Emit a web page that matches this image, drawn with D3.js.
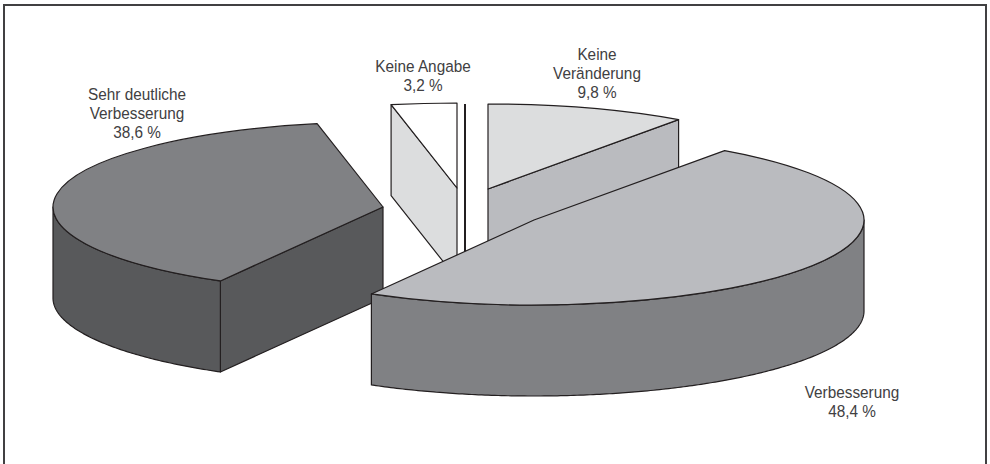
<!DOCTYPE html>
<html>
<head>
<meta charset="utf-8">
<script src="https://d3js.org/d3.v7.min.js"></script>
<style>
  html, body { margin: 0; background: #fff; }
  svg { display: block; }
  text { font-family: "Liberation Sans", sans-serif; font-size: 16.5px; fill: #414042; text-anchor: middle; }
  .slice path { stroke: #231f20; stroke-width: 1.2; stroke-linejoin: round; vector-effect: non-scaling-stroke; }
</style>
</head>
<body>
<div id="chart"></div>
<script>
// values in percent, clockwise from twelve o'clock
const categories = ['Keine Veränderung', 'Verbesserung', 'Sehr deutliche Verbesserung', 'Keine Angabe']
const shares = [9.8, 48.4, 38.6, 3.2]
const valueLabels = ['9,8 %', '48,4 %', '38,6 %', '3,2 %']

const width = 990, height = 464
const rx = 330, ry = 85, depth = 91

const svg = d3.select('#chart').append('svg')
    .attr('width', width)
    .attr('height', height)

// frame, open at the bottom
svg.append('path')
    .attr('fill', 'none')
    .attr('stroke', '#414042')
    .attr('stroke-width', 2)
    .attr('d', 'M4,464V5H986V464')

// where each exploded slice sits, how it is shaded, which flat side shows
const look = {
  'Keine Veränderung': {cx: 488, cy: 189, top: '#dcddde', wall: '#babbbf', order: 2, side: 'endAngle'},
  'Verbesserung': {cx: 534, cy: 220, top: '#babbbf', wall: '#808184', order: 4, side: null},
  'Sehr deutliche Verbesserung': {cx: 383, cy: 207, top: '#808184', wall: '#58595b', order: 3, side: 'startAngle'},
  'Keine Angabe': {cx: 457, cy: 188, top: '#ffffff', wall: '#dcddde', order: 0, side: 'startAngle'}
}

const pie = d3.pie().sort(null)
const slices = pie(shares).map((d, i) => ({...d, name: categories[i], ...look[categories[i]]}))
  .sort((a, b) => a.order - b.order)

const arc = d3.arc().innerRadius(0).outerRadius(rx)

// pie angle -> point on the flattened rim, relative to the slice centre
const rimX = a => rx * Math.sin(a)
const rimY = a => -ry * Math.cos(a)

const wallLine = d3.line()
const rimArea = d3.area().x(rimX).y0(rimY).y1(a => rimY(a) + depth)

const drawSlice = d => {
  const g = svg.append('g')
      .attr('class', 'slice')
      .attr('transform', `translate(${d.cx},${d.cy})`)

  // flat side of the wedge
  if (d.side) {
    const x = rimX(d[d.side]), y = rimY(d[d.side])
    g.append('path')
        .attr('fill', d.wall)
        .attr('d', wallLine([[0, 0], [x, y], [x, y + depth], [0, depth]]) + 'Z')
  }

  // curved outer wall, visible between 90 and 270 degrees
  const from = Math.max(d.startAngle, Math.PI / 2)
  const to = Math.min(d.endAngle, 3 * Math.PI / 2)
  if (from < to) {
    g.append('path')
        .attr('fill', d.wall)
        .attr('d', rimArea(d3.range(from, to, 0.01).concat(to)))
  }

  // top surface
  g.append('path')
      .attr('transform', `scale(1,${ry / rx})`)
      .attr('fill', d.top)
      .attr('d', arc(d))
}

slices.slice(0, 1).forEach(drawSlice)

// thin divider between the two upper slices
svg.append('path')
    .attr('fill', 'none')
    .attr('stroke', '#231f20')
    .attr('stroke-width', 2)
    .attr('d', wallLine([[465, 104], [465, 252]]))

slices.slice(1).forEach(drawSlice)

// labels
const labelLines = [
  {x: 137, y: 100, lines: ['Sehr deutliche', 'Verbesserung', valueLabels[2]]},
  {x: 423, y: 72, lines: ['Keine Angabe', valueLabels[3]]},
  {x: 597, y: 60, lines: ['Keine', 'Veränderung', valueLabels[0]]},
  {x: 852, y: 398, lines: ['Verbesserung', valueLabels[1]]}
]
const label = svg.selectAll('text.label').data(labelLines).enter()
    .append('text').attr('class', 'label')
    .attr('transform', d => `translate(${d.x},${d.y}) scale(0.93,1)`)
label.selectAll('tspan').data(d => d.lines).enter()
    .append('tspan')
    .attr('x', 0)
    .attr('y', (d, i) => i * 19)
    .text(d => d)
</script>
</body>
</html>
